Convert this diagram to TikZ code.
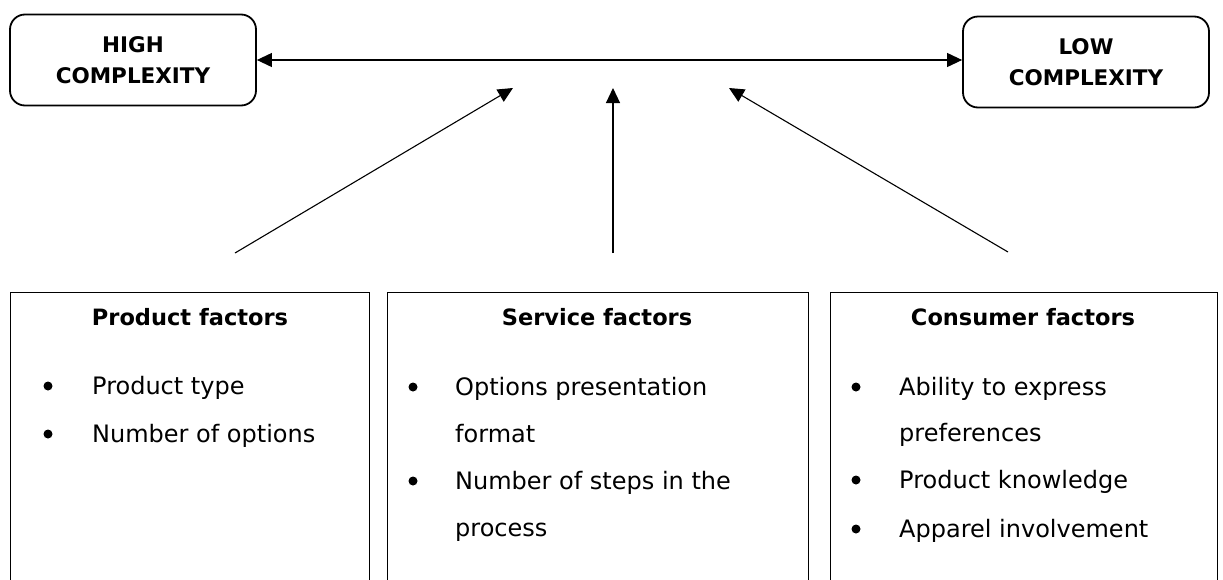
\documentclass[tikz,border=0pt]{standalone}
\usepackage{fontspec}
\setmainfont{DejaVu Sans}
\usetikzlibrary{arrows.meta}
\begin{document}
\begin{tikzpicture}[x=1pt,y=-1pt,
  endbox/.style={draw, line width=1.8pt, rounded corners=15pt,
    minimum width=246pt, minimum height=91pt, align=center, inner sep=0pt,
    font=\bfseries\fontsize{21.5}{31}\selectfont},
  factorbox/.style={draw, line width=1.1pt, anchor=north west, inner sep=0pt},
  ttl/.style={anchor=base, inner sep=0pt, font=\bfseries\fontsize{22.5}{27}\selectfont},
  item/.style={anchor=base west, inner sep=0pt, font=\fontsize{24}{28}\selectfont},
  dot/.style={circle, fill, inner sep=0pt, minimum size=9pt},
  arr/.style={line width=1.1pt, -{Triangle[length=15pt,width=14pt]}},
  dblarr/.style={line width=1.1pt, {Triangle[length=15pt,width=14pt]}-{Triangle[length=15pt,width=14pt]}}
]
\useasboundingbox (0,0) rectangle (1223,579);
\clip (0,0) rectangle (1223,579);

% complexity scale
\node[endbox] (high) at (133,60) {HIGH\\COMPLEXITY};
\node[endbox] (low) at (1086,62) {LOW\\COMPLEXITY};
\draw[dblarr] (high.east) -- (high.east -| low.west);

% factor panels (open at the bottom edge)
\node[factorbox, minimum width=359pt, minimum height=330pt] (product) at (10,292) {};
\node[factorbox, minimum width=421pt, minimum height=330pt] (service) at (387,292) {};
\node[factorbox, minimum width=387pt, minimum height=330pt] (consumer) at (830,292) {};

% arrows from the panels to the scale
\coordinate (ptail) at (235,253);
\coordinate (phead) at (513,88);
\coordinate (stail) at (613,253);
\coordinate (shead) at (613,88);
\coordinate (ctail) at (1008,252);
\coordinate (chead) at (729,88);
\draw[arr] (ptail) -- (phead);
\draw[arr] (stail) -- (shead);
\draw[arr] (ctail) -- (chead);

% product factors
\node[ttl] (ptitle) at (190,325) {Product factors};
\node[dot] (pd1) at (48,386) {};
\node[item] (pi1) at (92,394) {Product type};
\node[dot] (pd2) at (48,434) {};
\node[item] (pi2) at (92,442) {Number of options};

% service factors
\node[ttl] (stitle) at (597,325) {Service factors};
\node[dot] (sd1) at (413,387) {};
\node[item] (si1) at (455,395) {Options presentation};
\node[item] (si1b) at (455,442) {format};
\node[dot] (sd2) at (413,481) {};
\node[item] (si2) at (455,489) {Number of steps in the};
\node[item] (si2b) at (455,536) {process};

% consumer factors
\node[ttl] (ctitle) at (1023,325) {Consumer factors};
\node[dot] (cd1) at (856,387) {};
\node[item] (ci1) at (899,395) {Ability to express};
\node[item] (ci1b) at (899,441) {preferences};
\node[dot] (cd2) at (856,480) {};
\node[item] (ci2) at (899,488) {Product knowledge};
\node[dot] (cd3) at (856,529) {};
\node[item] (ci3) at (899,537) {Apparel involvement};
\end{tikzpicture}
\end{document}
